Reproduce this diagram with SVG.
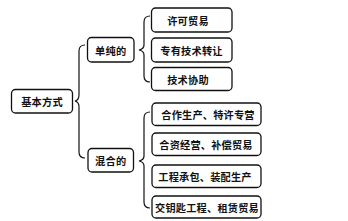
<svg xmlns="http://www.w3.org/2000/svg" width="348" height="221" viewBox="0 0 348 221">
<style>
.box{fill:#fff;stroke:#111;stroke-width:1.3}
.br{fill:none;stroke:#111;stroke-width:1.2}
text{font-family:"Noto Sans CJK SC","Noto Sans",sans-serif;font-size:10.2px;font-weight:bold;fill:#111;text-anchor:middle;dominant-baseline:central;letter-spacing:0.2px}
</style>
<rect width="348" height="221" fill="#fff"/>
<g id="connectors">
<path class="br" d="M85,45 Q79,45 79,51 L79,95 Q79,100 75,101 Q79,102 79,107 L79,152 Q79,158 85,158"/>
<path class="br" d="M150,16 Q144,16 144,22 L144,45 Q144,49 139,50 Q144,51 144,55 L144,76 Q144,82 150,82"/>
<path class="br" d="M150,112 Q144,112 144,118 L144,156 Q144,160 139,161 Q144,162 144,166 L144,202 Q144,208 150,208"/>
</g>
<g id="n0"><rect class="box" x="11.5" y="89.5" width="61" height="23.5" rx="4"/><text x="42" y="101.5">基本方式</text></g>
<g id="n1"><rect class="box" x="87.5" y="37.5" width="46.5" height="24.5" rx="4"/><text x="110.7" y="50">单纯的</text></g>
<g id="n2"><rect class="box" x="88" y="148.5" width="45.5" height="23.5" rx="4"/><text x="110.7" y="160.5">混合的</text></g>
<g id="n3"><rect class="box" x="151.5" y="8" width="80.5" height="24" rx="4"/><text x="188" y="20">许可贸易</text></g>
<g id="n4"><rect class="box" x="151.5" y="38" width="80.5" height="24" rx="4"/><text x="191.5" y="50">专有技术转让</text></g>
<g id="n5"><rect class="box" x="151.5" y="67.5" width="80.5" height="23" rx="4"/><text x="188" y="79">技术协助</text></g>
<g id="n6"><rect class="box" x="152" y="103" width="109" height="22.5" rx="4"/><text x="208" y="114.5">合作生产、特许专营</text></g>
<g id="n7"><rect class="box" x="152" y="133" width="109" height="22.5" rx="4"/><text x="206" y="144.5">合资经营、补偿贸易</text></g>
<g id="n8"><rect class="box" x="152" y="165" width="109" height="22.5" rx="4"/><text x="205" y="176">工程承包、装配生产</text></g>
<g id="n9"><rect class="box" x="152" y="196" width="109" height="22" rx="4"/><text x="207" y="207">交钥匙工程、租赁贸易</text></g>
</svg>
